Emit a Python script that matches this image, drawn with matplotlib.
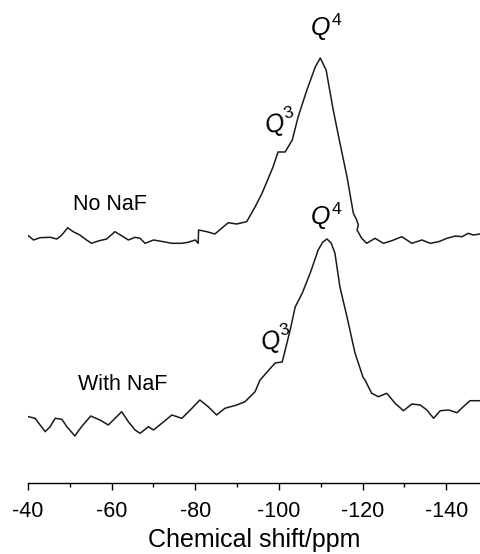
import matplotlib
matplotlib.use("Agg")
import matplotlib.pyplot as plt
from matplotlib.ticker import MultipleLocator

plt.rcParams['font.family'] = ['Liberation Sans', 'DejaVu Sans']
plt.rcParams['mathtext.fontset'] = 'custom'
plt.rcParams['mathtext.it'] = 'Liberation Sans:italic'
plt.rcParams['mathtext.rm'] = 'Liberation Sans'
plt.rcParams['axes.unicode_minus'] = False

# No NaF spectrum (ppm, intensity a.u.)
ppm_nonaf = [-40.1, -41.3, -42.9, -45.3, -46.9, -48.1, -49.5, -50.8, -52.4, -54.0,
             -55.2, -56.8, -58.8, -60.8, -62.4, -64.0, -65.6, -66.8, -68.0, -70.0,
             -72.4, -74.4, -76.8, -78.3, -80.0, -80.7, -80.8, -82.8, -84.7, -86.3,
             -87.9, -89.9, -92.3, -94.3, -96.0, -98.6, -99.8, -101.5, -103.2, -104.6,
             -106.7, -108.7, -109.9, -111.3, -113.0, -114.6, -116.3, -117.8, -118.6, -119.0,
             -118.7, -119.8, -121.0, -123.0, -125.0, -127.0, -129.4, -131.8, -134.2, -136.2,
             -138.2, -140.2, -142.2, -143.8, -145.3, -146.5, -148.1]
int_nonaf = [4.3, 0, 2.3, 2.7, 1.0, 5.0, 12.3, 8.3, 5.0, 0,
             -3.3, -1.0, 1.0, 8.3, 4.3, 0, 2.7, 1.7, -3.3, 0,
             -1.7, -3.3, -3.3, -2.3, 0, -3.3, 10, 8.3, 6, 11.7,
             17.3, 16, 18.3, 33, 47, 73, 88, 88, 100, 123,
             150, 173, 182, 170, 130, 97, 63, 27, 20, 15,
             10, 1.7, -3.3, 1.7, -3.3, -0.7, 3.3, -3.3, 0, -3.3,
             -1.7, 1.7, 4, 3.3, 6.7, 5, 6]

# With NaF spectrum
ppm_naf = [-40.1, -41.7, -42.9, -44.1, -45.3, -46.5, -48.1, -49.3, -51.2, -52.8,
           -55.0, -57.2, -59.2, -61.2, -62.4, -64.0, -65.6, -66.8, -68.8, -70.0,
           -72.0, -74.4, -76.8, -79.2, -81.1, -83.1, -85.1, -87.1, -89.9, -91.9,
           -94.3, -95.5, -99.1, -100.8, -102.7, -103.9, -105.6, -107.5, -109.4, -110.5,
           -111.5, -112.5, -113.4, -114.6, -116.3, -118.2, -120.1, -120.6, -122.2, -123.8,
           -125.8, -127.8, -129.8, -131.8, -133.8, -135.4, -137.0, -138.6, -140.6, -142.6,
           -144.1, -145.7, -148.1]
int_naf = [-1.7, -3.3, -10, -16.7, -11.7, -3.3, -4.3, -11.7, -21, -11.7,
           -1, -5, -10, -1.7, 3.3, -6.7, -15, -18.3, -11.7, -15,
           -8.3, 0, -3.3, 6.7, 15, 8.3, 0, 6.7, 10, 13.3,
           23.3, 35, 52, 53, 85, 108, 122, 142, 165, 173,
           176, 172, 162, 128, 98, 62, 38, 35, 21.7, 18.3,
           21.7, 11.7, 4.3, 11, 10, 5, -3.3, 4.3, 5, 2.3,
           8.3, 14.3, 14.3]

offset_nonaf = 243
offset_naf = 68

fig = plt.figure(figsize=(4.8, 5.54), dpi=100)
ax = fig.add_axes([28 / 480, 71 / 554, 1 - 28 / 480, 483 / 554])

ax.plot(ppm_nonaf, [v + offset_nonaf for v in int_nonaf], color='#1a1a1a', lw=1.1)
ax.plot(ppm_naf, [v + offset_naf for v in int_naf], color='#1a1a1a', lw=1.1)

ax.set_xlim(-40, -148.1)
ax.set_ylim(0, 483)

for s in ['top', 'left', 'right']:
    ax.spines[s].set_visible(False)
ax.spines['bottom'].set_linewidth(1.0)
ax.set_yticks([])
ax.xaxis.set_major_locator(MultipleLocator(20))
ax.xaxis.set_minor_locator(MultipleLocator(10))
ax.tick_params(axis='x', which='major', direction='out', length=5, width=1, labelsize=15.5, pad=8)
ax.tick_params(axis='x', which='minor', direction='out', length=3, width=1)
ax.set_xlabel('Chemical shift/ppm', fontsize=18, labelpad=4)

ax.text(-59.6, 278, 'No NaF', fontsize=15.5, ha='center', va='center')
ax.text(-62.6, 98, 'With NaF', fontsize=15.5, ha='center', va='center')

ax.text(-111.3, 456, r'$Q^4$', fontsize=18, ha='center', va='center')
ax.text(-100.3, 360, r'$Q^3$', fontsize=18, ha='center', va='center', rotation=15)
ax.text(-111.3, 267, r'$Q^4$', fontsize=18, ha='center', va='center')
ax.text(-99.3, 143, r'$Q^3$', fontsize=18, ha='center', va='center', rotation=15)

fig.savefig('out.png', dpi=100)
